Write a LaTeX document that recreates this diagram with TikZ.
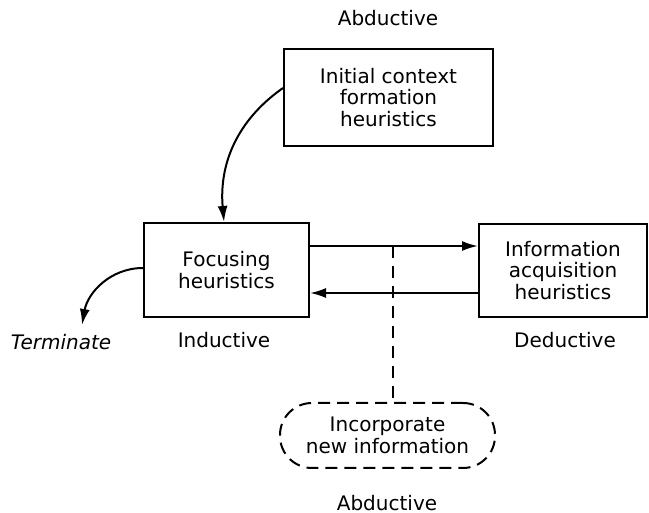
\documentclass[tikz,border=0pt]{standalone}
\usepackage{fontspec}
\setmainfont{DejaVu Sans}
\usetikzlibrary{arrows.meta,positioning,calc}

\begin{document}
\begin{tikzpicture}[
      x=0.5pt,y=-0.5pt,
      every node/.style={font=\fontsize{10pt}{10.75pt}\selectfont,inner sep=0pt},
      heuristic/.style={rectangle,draw,line width=1pt,align=center},
      incorporate/.style={rectangle,draw,line width=1pt,rounded corners=16pt,
                          dash pattern=on 6pt off 3.5pt,align=center},
      mode/.style={align=center},
      arrow/.style={-{Latex[length=8pt,width=5pt]},line width=1pt},
      link/.style={line width=1pt,dash pattern=on 6pt off 4pt}
    ]
    \useasboundingbox (0,0) rectangle (649,513);

    % Boxes
    \node[heuristic,minimum width=104.5pt,minimum height=48.5pt] (init) at (388.5,97.5)
      {Initial context\\formation\\heuristics};
    \node[heuristic,minimum width=82.5pt,minimum height=47pt] (focus) at (226.5,270)
      {Focusing\\heuristics};
    \node[heuristic,minimum width=84pt,minimum height=46.5pt] (acq) at (563,270.5)
      {Information\\acquisition\\heuristics};
    \node[incorporate,minimum width=107.5pt,minimum height=32.5pt] (inc) at (387.5,435.5)
      {Incorporate\\new information};

    % Modes of reasoning
    \node[mode] (abdTop) at (388,18) {Abductive};
    \node[mode] (ind) at (224,340) {Inductive};
    \node[mode] (ded) at (565,340) {Deductive};
    \node[mode] (abdBot) at (387,503) {Abductive};
    \node[mode,font=\fontsize{10pt}{10.75pt}\selectfont\itshape] (term) at (61,342) {Terminate};

    % Flow
    \draw[arrow] ([yshift=4.75pt]init.west) to[out=215,in=95] ([xshift=-1.25pt]focus.north);
    \draw[arrow] ([yshift=12pt]focus.east) -- ([yshift=12pt]focus.east -| acq.west);
    \draw[arrow] ([yshift=-11.5pt]focus.east -| acq.west) -- ([yshift=-11.5pt]focus.east);
    \coordinate (termEnd) at (82,325);
    \draw[arrow] ([yshift=1pt]focus.west) to[out=180,in=80] (termEnd);

    % New information
    \coordinate (tap) at (393,246);
    \draw[link] (tap) -- (tap |- inc.north);

  \end{tikzpicture}
\end{document}
